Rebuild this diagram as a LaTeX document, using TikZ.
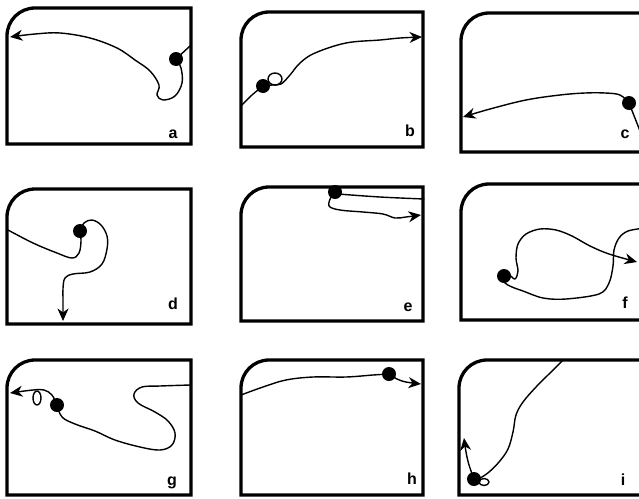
\documentclass[tikz,border=0pt]{standalone}
\usepackage{fontspec}
\newfontfamily\lblfont{Liberation Sans}
\usetikzlibrary{arrows.meta}
\tikzset{
  boxline/.style={line width=3.3pt, line join=miter},
  trace/.style={line width=1.4pt, line cap=round, line join=round},
  tip/.style={-{Stealth[length=12.5pt,width=11pt,inset=4pt]}},
  dot/.style={circle, fill=black, inner sep=0pt, minimum size=14pt},
  lbl/.style={font=\lblfont\bfseries\fontsize{16}{16}\selectfont, anchor=base, inner sep=0pt},
}
\newcommand\panelbox[4]{%
  \draw[boxline] (#1,#4) -- (#1,#2+28) .. controls (#1,#2+12.5) and (#1+12.5,#2) .. (#1+28,#2) -- (#3,#2) -- (#3,#4) -- cycle;}
\begin{document}
\begin{tikzpicture}[x=1pt,y=-1pt]
\useasboundingbox (0,0) rectangle (639,498);
\clip (0,0) rectangle (639,498);
\fill[white] (0,0) rectangle (639,498);

% ---------- a ----------
\coordinate (pa) at (176,59);
\draw[trace] plot[smooth,tension=0.6] coordinates {(190,46) (176,59)};
\draw[trace,tip] plot[smooth,tension=0.6] coordinates {(176,59) (181,68) (182,83) (175,96) (163,100) (157,95) (159,85) (150,71) (135,60) (117,48) (90,38) (60,33) (35,34) (10,37)};
\node[dot] (da) at (pa) {};
\node[lbl] (la) at (173,138) {a};

% ---------- b ----------
\coordinate (pb) at (263,86);
\draw[trace] plot[smooth,tension=0.6] coordinates {(241,106) (252,95) (263,86)};
\draw[trace,tip] plot[smooth,tension=0.6] coordinates {(263,86) (272,85) (281,84) (290,75) (300,63) (315,53) (346,43) (380,40) (400,38) (422,37)};
\draw[trace] (275,79) ellipse [x radius=7, y radius=6];
\node[dot] (db) at (pb) {};
\node[lbl] (lb) at (410,136) {b};

% ---------- c ----------
\coordinate (pc) at (629,103);
\draw[trace] (pc) -- (642,136);
\draw[trace,tip] plot[smooth,tension=0.6] coordinates {(629,103) (620,95) (605,93) (585,93) (560,95) (526,100) (490,109) (463,117)};
\node[dot] (dc) at (pc) {};
\node[lbl] (lc) at (625,138) {c};

% ---------- d ----------
\coordinate (pd) at (80,231);
\draw[trace] plot[smooth,tension=0.6] coordinates {(8,230) (33,243) (57,253) (72,258) (79,253) (81,241) (80,231)};
\draw[trace,tip] plot[smooth,tension=0.6] coordinates {(80,231) (84,223) (92,220) (101,225) (107,236) (107,249) (102,264) (90,272) (73,274) (65,278) (63,288) (63,300) (63,321)};
\node[dot] (dd) at (pd) {};
\node[lbl] (ld) at (173,309) {d};

% ---------- e ----------
\coordinate (pe) at (335,192);
\draw[trace] plot[smooth,tension=0.6] coordinates {(338,194) (380,197) (424,199)};
\draw[trace,tip] plot[smooth,tension=0.6] coordinates {(331,197) (329,206) (340,210) (363,212) (383,214) (395,218) (406,217) (421,215)};
\node[dot] (de) at (pe) {};
\node[lbl] (le) at (408,311) {e};

% ---------- f ----------
\coordinate (pf) at (504,276);
\draw[trace,tip] plot[smooth,tension=0.55] coordinates {(645,228) (628,231) (619,238) (614,250) (613,266) (609,283) (599,294) (566,299) (543,298) (523,291) (512,287) (505,283) (503,277) (509,275) (515,279) (518,271) (516,258) (518,244) (526,234) (540,229) (556,230) (572,236) (590,246) (609,254) (637,262)};
\node[dot] (df) at (pf) {};
\node[lbl] (lf) at (625,308) {f};

% ---------- g ----------
\coordinate (pg) at (57,405);
\draw[trace] plot[smooth,tension=0.6] coordinates {(190,385) (160,386) (142,387) (134,394) (138,403) (155,412) (168,421) (175,433) (172,445) (160,450) (140,447) (115,440) (95,431) (75,424) (62,417) (57,405)};
\draw[trace,tip] plot[smooth,tension=0.6] coordinates {(57,405) (52,395) (44,390) (33,390) (10,393)};
\draw[trace] (37,398) ellipse [x radius=4, y radius=7];
\node[dot] (dg) at (pg) {};
\node[lbl] (lg) at (172,485) {g};

% ---------- h ----------
\coordinate (ph) at (389,374);
\draw[trace] plot[smooth,tension=0.6] coordinates {(241,395) (263,387) (286,380) (313,377) (346,377) (373,375) (389,374)};
\draw[trace,tip] plot[smooth,tension=0.6] coordinates {(389,374) (397,379) (406,382) (421,384)};
\node[dot] (dh) at (ph) {};
\node[lbl] (lh) at (412,484) {h};

% ---------- i ----------
\coordinate (pi) at (474,479);
\draw[trace] plot[smooth,tension=0.6] coordinates {(563,360) (549,374) (536,387) (523,402) (516,415) (513,432) (508,449) (499,462) (489,472) (480,478) (474,479)};
\draw[trace,tip] plot[smooth,tension=0.6] coordinates {(474,479) (469,465) (466,452) (464,438)};
\draw[trace] (484,482) ellipse [x radius=5, y radius=3.5];
\node[dot] (di) at (pi) {};
\node[lbl] (li) at (623,485) {i};

% ---------- boxes ----------
\panelbox{7}{8}{191}{144}
\panelbox{241}{12}{423}{147}
\panelbox{461}{13}{648}{152}
\panelbox{7}{189}{191}{324}
\panelbox{241}{187}{423}{321}
\panelbox{461}{184}{648}{320}
\panelbox{7}{360}{191}{495}
\panelbox{241}{360}{423}{495}
\panelbox{459}{360}{648}{495}
\end{tikzpicture}
\end{document}
